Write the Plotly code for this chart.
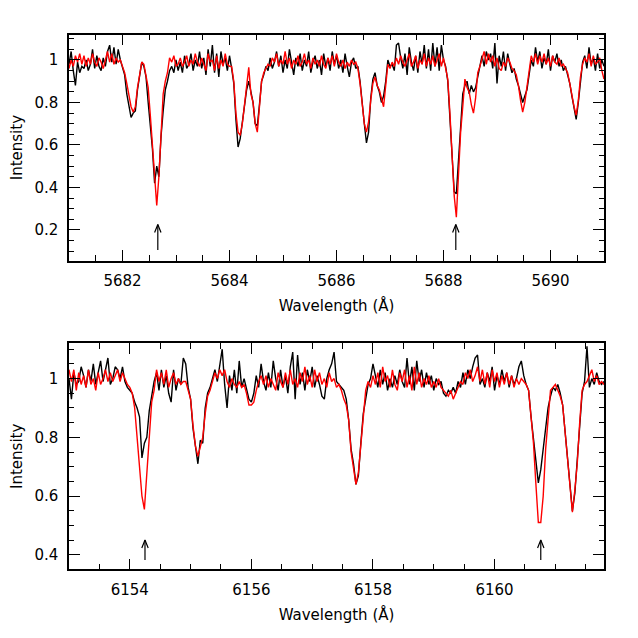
import plotly.graph_objects as go

# ---------------- data ----------------
# Spectra sampled on a regular wavelength grid (start, step in Angstrom)
top_start = 5681.0
bottom_start = 6153.0
step = 0.04

top_observed = [
    0.98, 1.04, 0.95, 0.88, 0.99, 0.94, 0.97, 0.96, 1.00, 0.95,
    0.98, 1.05, 0.96, 1.02, 0.97, 0.95, 1.01, 0.97, 1.04, 1.07,
    0.99, 1.06, 0.98, 1.05, 1.00, 0.96, 0.93, 0.84, 0.79, 0.73,
    0.75, 0.76, 0.86, 0.93, 0.99, 0.97, 0.92, 0.80, 0.70, 0.58,
    0.42, 0.50, 0.45, 0.64, 0.76, 0.86, 0.90, 0.95, 0.97, 0.94,
    1.00, 0.95, 0.99, 0.94, 1.02, 0.96, 0.98, 1.03, 0.95, 1.00,
    0.97, 1.04, 0.96, 1.01, 0.93, 1.05, 0.97, 1.07, 0.94, 1.03,
    0.92, 1.04, 0.98, 1.01, 0.95, 1.02, 0.96, 0.89, 0.72, 0.59,
    0.63, 0.70, 0.78, 0.86, 0.90, 0.84, 0.80, 0.70, 0.69, 0.79,
    0.90, 0.93, 0.97, 0.95, 1.01, 0.96, 0.99, 1.04, 0.97, 1.02,
    0.94, 1.00, 0.96, 1.05, 0.98, 0.93, 1.01, 0.97, 1.03, 0.95,
    1.00, 0.97, 1.04, 0.94, 0.99, 1.02, 0.96, 1.00, 0.93, 1.03,
    0.97, 1.01, 0.95, 1.04, 0.98, 1.02, 0.96, 1.00, 0.94, 1.03,
    0.97, 0.92, 0.99, 1.01, 0.96, 0.97, 0.90, 0.79, 0.70, 0.61,
    0.66, 0.82, 0.91, 0.94, 0.88, 0.85, 0.80, 0.83, 0.90, 1.00,
    0.97, 0.98, 0.95, 1.07, 1.08, 1.01, 0.96, 1.03, 0.93, 1.06,
    0.99, 0.95, 1.02, 0.94, 1.04, 0.98, 1.07, 0.96, 1.05, 0.95,
    1.08, 0.97, 1.06, 0.95, 1.07, 1.00, 0.97, 0.90, 0.74, 0.55,
    0.38, 0.37, 0.52, 0.72, 0.84, 0.88, 0.90, 0.84, 0.88, 0.85,
    0.87, 0.92, 0.98, 1.02, 0.97, 1.04, 1.00, 1.03, 0.96, 1.08,
    0.89, 1.02, 0.97, 1.04, 0.95, 1.03, 0.98, 0.94, 0.96, 0.91,
    0.88, 0.84, 0.80, 0.83, 0.86, 0.93, 1.00, 0.97, 1.06, 0.99,
    1.04, 0.96, 1.01, 0.98, 1.05, 0.95, 1.02, 0.99, 1.03, 0.97,
    1.00, 0.95, 0.97, 0.93, 0.89, 0.83, 0.77, 0.72, 0.80, 0.91,
    0.99, 1.02, 0.96, 1.06, 0.98, 1.01, 0.95, 1.03, 0.96, 1.00,
    0.97,
]

top_model = [
    0.96, 1.00, 0.97, 1.02, 0.99, 1.03, 0.98, 1.02, 0.97, 1.01,
    0.98, 1.03, 0.99, 0.97, 1.01, 0.99, 0.96, 1.00, 1.04, 0.99,
    1.03, 0.98, 1.01, 0.99, 1.00, 0.97, 0.94, 0.89, 0.83, 0.78,
    0.755, 0.78, 0.87, 0.94, 0.99, 0.98, 0.93, 0.87, 0.74, 0.61,
    0.44, 0.315, 0.45, 0.66, 0.84, 0.90, 0.94, 1.01, 0.99, 1.02,
    0.97, 0.98, 1.01, 0.97, 0.99, 1.02, 0.97, 1.00, 0.98, 1.03,
    0.99, 0.97, 1.01, 0.98, 0.95, 1.03, 0.99, 1.00, 0.95, 1.02,
    0.96, 1.00, 0.97, 1.03, 0.98, 0.97, 0.97, 0.90, 0.75, 0.66,
    0.645, 0.70, 0.78, 0.88, 0.965, 0.84, 0.80, 0.70, 0.66, 0.78,
    0.90, 0.94, 0.96, 0.98, 0.97, 1.01, 0.99, 1.03, 0.97, 1.00,
    0.98, 1.04, 0.98, 1.01, 0.96, 1.00, 0.98, 1.02, 0.97, 0.99,
    1.03, 0.98, 1.00, 0.96, 1.01, 0.98, 1.00, 0.97, 1.02, 0.98,
    0.96, 1.01, 0.98, 1.02, 0.97, 1.03, 0.99, 0.97, 1.00, 0.96,
    0.99, 0.97, 1.00, 0.98, 0.99, 0.96, 0.89, 0.80, 0.70, 0.66,
    0.71, 0.81, 0.89, 0.92, 0.88, 0.86, 0.82, 0.78, 0.88, 0.98,
    0.96, 0.99, 0.97, 1.01, 0.98, 1.02, 0.99, 0.97, 1.00, 1.03,
    0.97, 0.99, 1.02, 0.96, 1.00, 0.98, 1.03, 0.97, 1.01, 0.98,
    1.02, 0.97, 1.00, 1.03, 0.97, 1.01, 0.96, 0.91, 0.75, 0.57,
    0.36, 0.26, 0.45, 0.66, 0.78, 0.91, 0.87, 0.85, 0.79, 0.75,
    0.82, 0.94, 0.97, 1.00, 1.04, 0.98, 1.03, 0.99, 1.02, 0.97,
    1.01, 0.96, 0.95, 0.99, 0.97, 1.01, 0.99, 0.96, 0.95, 0.93,
    0.88, 0.81, 0.755, 0.80, 0.87, 0.93, 1.02, 0.99, 1.03, 0.98,
    1.02, 0.99, 1.03, 0.98, 1.01, 0.97, 1.02, 0.99, 0.98, 1.01,
    0.97, 0.98, 0.96, 0.94, 0.89, 0.83, 0.78, 0.74, 0.81, 0.92,
    0.98, 1.01, 0.99, 1.03, 0.97, 1.02, 0.98, 0.99, 1.01, 0.95,
    0.91,
]

bottom_observed = [
    1.00, 0.93, 1.02, 0.98, 0.99, 1.04, 1.01, 0.97, 1.03, 0.99,
    1.05, 0.98, 1.02, 1.06, 0.99, 1.03, 1.07, 0.98, 1.00, 1.04,
    1.03, 1.00, 1.04, 0.99, 0.97, 0.96, 0.95, 0.92, 0.90, 0.87,
    0.73, 0.78, 0.80, 0.89, 0.94, 0.99, 1.02, 0.96, 1.03, 0.97,
    1.01, 0.95, 0.92, 1.03, 0.96, 1.00, 0.98, 1.07, 1.05, 0.97,
    0.93, 0.83, 0.77, 0.71, 0.79, 0.78, 0.90, 0.95, 0.97, 1.00,
    1.03, 0.99, 1.05, 1.10, 0.98, 0.90, 1.01, 0.96, 1.03, 0.95,
    1.06, 0.97, 1.00, 0.96, 0.93, 0.92, 0.95, 1.01, 0.97, 1.05,
    0.99, 0.96, 1.02, 0.97, 1.06, 1.00, 0.96, 1.03, 0.97, 1.01,
    0.95, 1.04, 1.09, 0.93, 1.08, 0.98, 1.02, 0.96, 1.03, 0.99,
    1.04, 0.97, 1.01, 0.98, 0.94, 0.93, 1.00, 1.03, 1.05, 1.09,
    0.99, 0.98, 0.97, 0.96, 0.93, 0.86, 0.76, 0.71, 0.64, 0.67,
    0.78, 0.88, 0.93, 0.98, 1.00, 1.05, 1.01, 0.97, 1.03, 0.98,
    1.02, 0.96, 1.00, 0.97, 1.01, 0.98, 1.03, 0.99, 0.97, 1.07,
    0.98, 1.04, 0.96, 1.06, 0.99, 1.03, 0.97, 1.02, 0.98, 1.01,
    0.96, 1.00, 0.98, 0.99, 0.95, 0.94, 0.96, 0.95, 0.97, 0.95,
    0.99, 0.97, 1.02, 0.98, 1.03, 1.00, 1.04, 1.07, 1.08, 0.98,
    1.00, 0.97, 1.02, 0.99, 1.04, 0.96, 1.01, 0.98, 1.03, 0.99,
    1.02, 0.97, 1.01, 0.98, 1.00, 1.04, 1.06, 1.01, 0.98, 0.96,
    0.87, 0.80, 0.72, 0.645, 0.69, 0.76, 0.85, 0.90, 0.94, 0.97,
    0.96, 0.98, 0.95, 0.91, 0.82, 0.72, 0.62, 0.55, 0.61, 0.72,
    0.86, 0.95, 0.99, 1.11, 0.97, 1.00, 0.98, 1.02, 0.99, 0.98,
    0.99,
]

bottom_model = [
    1.03, 0.99, 1.03, 0.96, 1.02, 0.98, 1.01, 0.97, 1.03, 0.98,
    1.00, 0.96, 1.02, 0.98, 1.00, 1.03, 0.99, 1.02, 0.99, 1.01,
    1.03, 0.99, 1.02, 1.00, 0.98, 0.97, 0.95, 0.90, 0.80, 0.70,
    0.60, 0.555, 0.67, 0.80, 0.92, 0.96, 1.03, 0.99, 1.02, 0.98,
    1.03, 0.97, 1.00, 1.02, 0.98, 1.00, 0.98, 0.99, 0.99, 0.96,
    0.93, 0.84, 0.77, 0.735, 0.77, 0.80, 0.88, 0.94, 0.96, 0.99,
    1.02, 1.00, 1.03, 1.01, 1.03, 0.99, 0.97, 1.00, 0.98, 0.97,
    0.99, 0.97, 0.98, 0.95, 0.91, 0.91, 0.92, 0.96, 0.99, 1.01,
    0.98, 1.01, 0.97, 1.00, 0.98, 0.96, 1.02, 0.99, 0.97, 1.02,
    0.98, 1.03, 0.98, 1.00, 0.97, 1.02, 0.99, 1.04, 0.98, 1.01,
    0.97, 1.03, 0.99, 1.02, 0.98, 1.00, 0.97, 1.02, 0.99, 1.00,
    0.97, 0.98, 0.96, 0.93, 0.91, 0.86, 0.75, 0.70, 0.64, 0.68,
    0.78, 0.89, 0.96, 0.99, 0.97, 1.01, 0.98, 1.02, 0.97, 1.04,
    0.99, 1.01, 0.97, 1.03, 0.98, 0.96, 1.02, 0.99, 1.03, 0.97,
    1.01, 0.96, 1.04, 0.98, 1.02, 0.97, 1.00, 0.98, 1.01, 0.97,
    0.99, 0.97, 1.00, 0.97, 0.96, 0.95, 0.94, 0.96, 0.93, 0.95,
    0.97, 0.99, 0.98, 1.02, 1.00, 1.03, 0.99, 1.01, 1.04, 0.99,
    1.03, 0.98, 1.02, 0.97, 1.03, 0.99, 1.02, 0.97, 1.01, 0.98,
    1.02, 0.98, 1.01, 0.97, 1.00, 0.98, 1.00, 0.99, 0.98, 0.96,
    0.87, 0.78, 0.64, 0.51, 0.51, 0.60, 0.76, 0.87, 0.96, 0.97,
    0.98, 0.96, 0.94, 0.91, 0.82, 0.72, 0.63, 0.545, 0.62, 0.71,
    0.85, 0.96, 0.98, 0.99, 1.01, 1.03, 0.99, 1.01, 0.98, 0.99,
    0.98,
]

# Marked lines (arrow positions, Angstrom) and arrow extent in intensity
top_marks = [5682.66, 5688.23]
top_arrow_y = [0.105, 0.225]
bottom_marks = [6154.25, 6160.76]
bottom_arrow_y = [0.383, 0.451]

top_xticks = [5682, 5684, 5686, 5688, 5690]
bottom_xticks = [6154, 6156, 6158, 6160]
top_yticks = [0.2, 0.4, 0.6, 0.8, 1.0]
bottom_yticks = [0.4, 0.6, 0.8, 1.0]

# ---------------- figure ----------------
# The page body keeps the browser's default 8 px margin, so the figure is
# 622 px and every reference pixel position is shifted by 8 px.
OFF = 8
W = H = 638 - 2 * OFF
FONT = "DejaVu Sans"

top_wl = [round(top_start + step * i, 3) for i in range(len(top_observed))]
bottom_wl = [round(bottom_start + step * i, 3) for i in range(len(bottom_observed))]

fig = go.Figure()
line_w = 1.4
fig.add_trace(go.Scatter(x=top_wl, y=top_observed, mode="lines",
                         line=dict(color="black", width=line_w), xaxis="x", yaxis="y", showlegend=False))
fig.add_trace(go.Scatter(x=top_wl, y=top_model, mode="lines",
                         line=dict(color="#ff0000", width=line_w), xaxis="x", yaxis="y", showlegend=False))
fig.add_trace(go.Scatter(x=bottom_wl, y=bottom_observed, mode="lines",
                         line=dict(color="black", width=line_w), xaxis="x2", yaxis="y2", showlegend=False))
fig.add_trace(go.Scatter(x=bottom_wl, y=bottom_model, mode="lines",
                         line=dict(color="#ff0000", width=line_w), xaxis="x2", yaxis="y2", showlegend=False))

# domains (paper fractions), from reference pixel positions
xdom = [(69 - OFF) / W, (604 - OFF) / W]
top_dom = [1 - (260.7 - OFF) / H, 1 - (34.5 - OFF) / H]
bot_dom = [1 - (569.3 - OFF) / H, 1 - (343.3 - OFF) / H]
top_xr = [5681, 5691]
top_yr = [0.055, 1.12]
bot_xr = [6153, 6161.8]
bot_yr = [0.351, 1.12]


def arrows(marks, yext, xr, yr, dom_h):
    # open arrowhead ~3px half-width, ~8px tall
    px_per_x = (xdom[1] - xdom[0]) * W / (xr[1] - xr[0])
    px_per_y = (dom_h[1] - dom_h[0]) * H / (yr[1] - yr[0])
    hw = 3.2 / px_per_x
    hh = 8.0 / px_per_y
    xs, ys = [], []
    for m in marks:
        xs += [m, m, None, m - hw, m, m + hw, None]
        ys += [yext[0], yext[1], None, yext[1] - hh, yext[1], yext[1] - hh, None]
    return xs, ys


ax_, ay_ = arrows(top_marks, top_arrow_y, top_xr, top_yr, top_dom)
fig.add_trace(go.Scatter(x=ax_, y=ay_, mode="lines", line=dict(color="black", width=1.2),
                         xaxis="x", yaxis="y", showlegend=False, hoverinfo="skip"))
bx_, by_ = arrows(bottom_marks, bottom_arrow_y, bot_xr, bot_yr, bot_dom)
fig.add_trace(go.Scatter(x=bx_, y=by_, mode="lines", line=dict(color="black", width=1.2),
                         xaxis="x2", yaxis="y2", showlegend=False, hoverinfo="skip"))


def ylabels(vals):
    return ["1" if abs(v - 1) < 1e-9 else f"{v:.1f}" for v in vals]


common = dict(showline=True, linecolor="black", linewidth=1.5, mirror="allticks",
              ticks="inside", ticklen=11, tickwidth=1.2, tickcolor="black",
              showgrid=False, zeroline=False, automargin=False,
              tickfont=dict(family=FONT, size=15, color="black"))
minor_base = dict(ticks="inside", ticklen=5.5, tickwidth=1.2, tickcolor="black", showgrid=False)

fig.update_layout(
    width=W, height=H,
    margin=dict(l=0, r=0, t=0, b=0),
    paper_bgcolor="white", plot_bgcolor="white",
    font=dict(family=FONT, size=15, color="black"),
    xaxis=dict(domain=xdom, range=top_xr, anchor="y", tickvals=top_xticks,
               ticktext=[str(v) for v in top_xticks],
               title=dict(text="Wavelength (Å)", standoff=11, font=dict(family=FONT, size=15)),
               ticklabelstandoff=6, **common,
               minor=dict(minor_base, dtick=0.5, tick0=5681)),
    yaxis=dict(domain=top_dom, range=top_yr, anchor="x", tickvals=top_yticks,
               ticktext=ylabels(top_yticks),
               title=dict(text="Intensity", standoff=14, font=dict(family=FONT, size=15)),
               ticklabelstandoff=6, **common,
               minor=dict(minor_base, dtick=0.05, tick0=0)),
    xaxis2=dict(domain=xdom, range=bot_xr, anchor="y2", tickvals=bottom_xticks,
                ticktext=[str(v) for v in bottom_xticks],
                title=dict(text="Wavelength (Å)", standoff=11, font=dict(family=FONT, size=15)),
                ticklabelstandoff=6, **common,
                minor=dict(minor_base, dtick=0.5, tick0=6153)),
    yaxis2=dict(domain=bot_dom, range=bot_yr, anchor="x2", tickvals=bottom_yticks,
                ticktext=ylabels(bottom_yticks),
                title=dict(text="Intensity", standoff=14, font=dict(family=FONT, size=15)),
                ticklabelstandoff=6, **common,
                minor=dict(minor_base, dtick=0.05, tick0=0)),
)

fig.write_html("out.html")
